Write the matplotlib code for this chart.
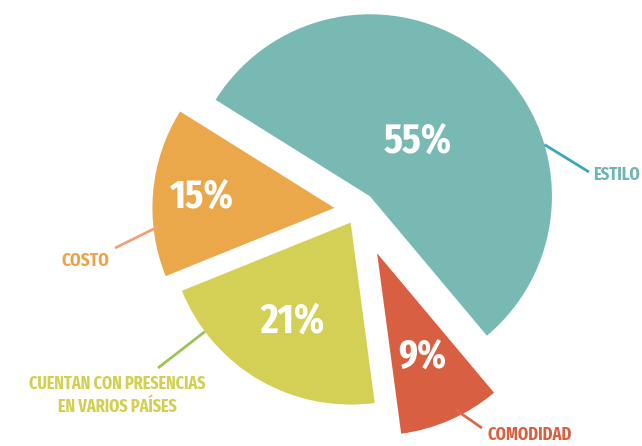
import numpy as np
import matplotlib
matplotlib.use("Agg")
import matplotlib.pyplot as plt
from matplotlib import font_manager

labels = ["ESTILO", "COSTO", "CUENTAN CON PRESENCIAS\nEN VARIOS PAÍSES", "COMODIDAD"]
values = [55, 15, 21, 9]
pct_text = ["55%", "15%", "21%", "9%"]
colors = ["#79b9b3", "#eaa84a", "#d4d055", "#d95f42"]
label_colors = ["#6fb5b1", "#eaa54a", "#d2cf52", "#d9603f"]
line_colors = ["#3ba7b8", "#f0a37a", "#9cc25c", "#d96a4f"]
explode = [0.10, 0.13, 0.08, 0.26]


def rank(path):
    p = path.lower().replace("-", "").replace("_", "")
    if "extracondensed" in p:
        r = 0
    elif "narrow" in p:
        r = 1
    elif "semicondensed" in p:
        r = 3
    else:
        r = 2
    if "extrabold" in p or "semibold" in p or "black" in p:
        r += 0.5
    return (r, path)


# the reference uses a tall narrow bold font, find the narrowest bold face
cands = []
for f in font_manager.fontManager.ttflist:
    fn = f.fname.lower()
    if ("condensed" in fn or "narrow" in fn) and "bold" in fn and "italic" not in fn:
        cands.append(f.fname)
cands.sort(key=rank)
if cands:
    font_kw = dict(fontproperties=font_manager.FontProperties(fname=cands[0]))
else:
    font_kw = dict(family="Roboto", fontweight="bold")

fig = plt.figure(figsize=(6.42, 4.46), dpi=100)
ax = fig.add_axes([0, 0, 1, 1])

wedges, _ = ax.pie(values, colors=colors, startangle=-50, explode=explode,
                   radius=1, wedgeprops=dict(linewidth=0))

ax.axis("off")
ax.set_xlim(-358 / 182, (642 - 358) / 182)
ax.set_ylim(-(446 - 210) / 182, 210 / 182)
renderer = fig.canvas.get_renderer()


def fit(t, max_size, width_px):
    # shrink text until it is no wider than allowed
    t.set_fontsize(max_size)
    w = t.get_window_extent(renderer).width
    if w > width_px:
        t.set_fontsize(max_size * width_px / w)


# percent labels along each wedge's bisector
pct_dist = [0.40, 0.73, 0.63, 0.62]
pct_width = [68, 64, 68, 48]
for w, s, d, wpx in zip(wedges, pct_text, pct_dist, pct_width):
    mid = np.deg2rad((w.theta1 + w.theta2) / 2)
    cx, cy = w.center
    t = ax.text(cx + d * np.cos(mid), cy + d * np.sin(mid), s, color="white",
                ha="center", va="center", **font_kw)
    fit(t, 30, wpx)

# leader lines: start on the wedge arc, end next to the label
line_start = [(16.5, 1.0), (186, 0.97), (216.8, 1.0), (296.6, 0.96)]
line_end = [(1.269, 0.209), (-1.335, -0.209), (-1.099, -0.868), (0.681, -1.198)]
text_pos = [(1.291, 0.192, "left", "center"),
            (-1.368, -0.28, "right", "center"),
            (-1.324, -1.019, "center", "center"),
            (0.709, -1.283, "left", "bottom")]
label_width = [47, 48, 178, 84]

for i, w in enumerate(wedges):
    ang, r = line_start[i]
    cx, cy = w.center
    x0 = cx + r * np.cos(np.deg2rad(ang))
    y0 = cy + r * np.sin(np.deg2rad(ang))
    x1, y1 = line_end[i]
    ax.plot([x0, x1], [y0, y1], color=line_colors[i], lw=2, solid_capstyle="butt")
    tx, ty, ha, va = text_pos[i]
    t = ax.text(tx, ty, labels[i], color=label_colors[i], ha=ha, va=va,
                linespacing=1.4, multialignment="center", **font_kw)
    fit(t, 16, label_width[i])

fig.savefig("out.png", dpi=100)
